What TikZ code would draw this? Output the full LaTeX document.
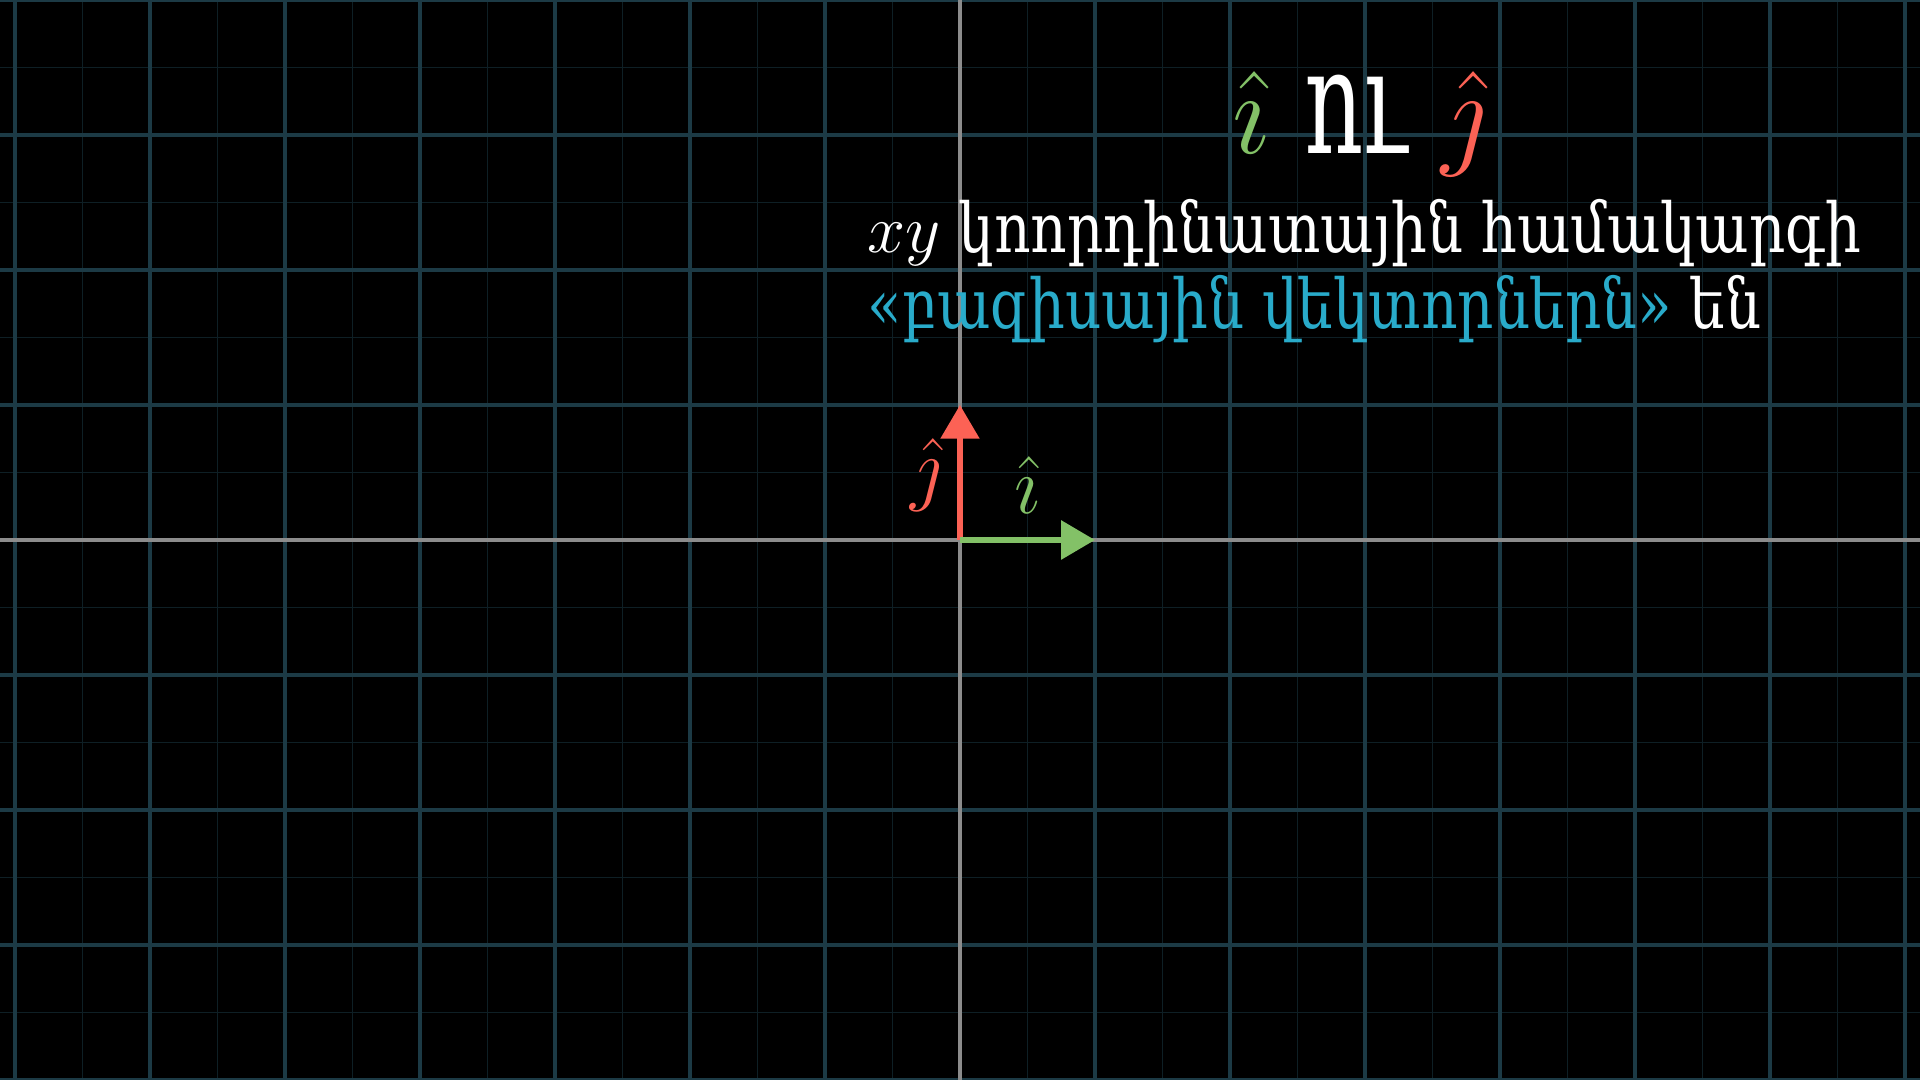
\documentclass[tikz,border=0pt]{standalone}
\usepackage{fontspec}
\usepackage{amsmath}
\usetikzlibrary{arrows.meta, positioning}
\newfontfamily\armfont[FakeStretch=0.82]{DejaVu Serif}
\newfontfamily\armtitle[FakeStretch=0.62]{DejaVu Serif}
\definecolor{gridmaj}{HTML}{1C3A45}
\definecolor{gridmin}{HTML}{0E1F25}
\definecolor{ihatc}{HTML}{83C167}
\definecolor{jhatc}{HTML}{FC6255}
\definecolor{basisc}{HTML}{29ABCA}
\definecolor{axisc}{HTML}{8C8C8C}

\begin{document}
\begin{tikzpicture}[
  minorln/.style={draw=gridmin, line width=0.35pt},
  majorln/.style={draw=gridmaj, line width=0.65pt},
  axisln/.style={draw=axisc, line width=0.65pt},
  vec/.style={line width=1.3pt, -{Triangle[length=2.5mm, width=2.8mm]}},
  vlbl/.style={font=\fontsize{17}{20}\selectfont, inner sep=0pt},
  ttl/.style={font=\fontsize{33}{36}\selectfont, text=white, inner sep=0pt},
  txt/.style={font=\armfont\fontsize{14.5}{17}\selectfont, text=white,
              anchor=base west, inner sep=0pt}
]

% ---------------------------------------------- frame and grid
\fill[black] (-7.1111,-4) rectangle (7.1111,4);
\useasboundingbox (-7.1111,-4) rectangle (7.1111,4);
\draw[minorln] (-7.1111,-4) grid[step=0.5] (7.1111,4);
\draw[majorln] (-7.1111,-4) grid[step=1] (7.1111,4);
\draw[axisln] (-7.1111,0) -- (7.1111,0);
\draw[axisln] (0,-4) -- (0,4);

% ---------------------------------------------- basis vectors
\coordinate (O) at (0,0);
\coordinate (ie) at (1,0);
\coordinate (je) at (0,1);

\draw[vec, draw=jhatc, fill=jhatc] (O) -- (je);
\draw[vec, draw=ihatc, fill=ihatc] (O) -- (ie);

\node[vlbl, text=jhatc] (jl) at (-0.25, 0.48) {$\hat{\jmath}$};
\node[vlbl, text=ihatc] (il) at (0.50, 0.41) {$\hat{\imath}$};

% ---------------------------------------------- heading and caption
\node[ttl] (title) at (2.96, 3.08)
  {$\color{ihatc}\hat{\imath}$\hspace{0.22em}{\armtitle\fontsize{31}{34}\selectfont ու}\hspace{0.22em}$\color{jhatc}\hat{\jmath}$};

\node[txt] (line1) at (-0.69, 2.13)
  {$xy$ կոորդինատային համակարգի};
\node[txt] (line2) at (-0.69, 1.57)
  {{\color{basisc}«բազիսային վեկտորներն»} են};

\end{tikzpicture}
\end{document}
